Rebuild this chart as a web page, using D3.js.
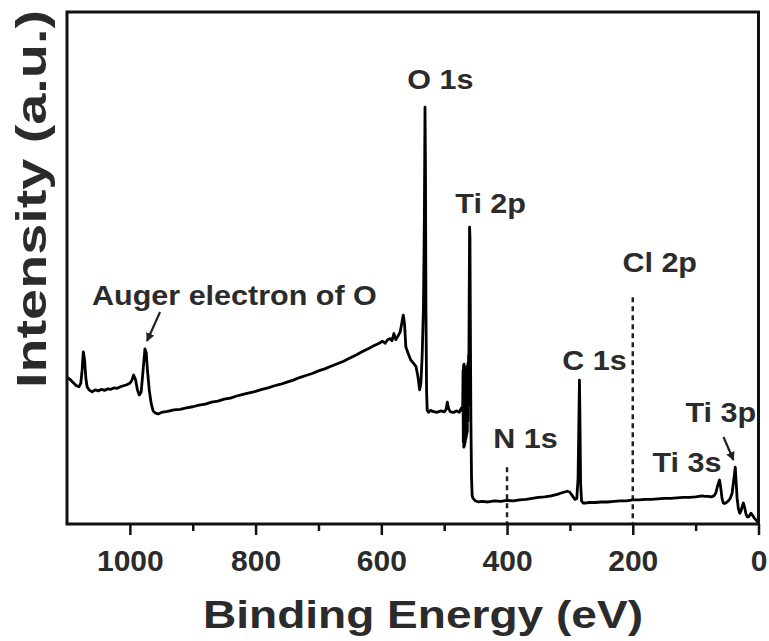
<!DOCTYPE html>
<html>
<head>
<meta charset="utf-8">
<title>XPS survey</title>
<script src="https://d3js.org/d3.v7.min.js"></script>
<style>
  body { margin: 0; background: #fff; }
  text { font-family: "Liberation Sans", Arial, sans-serif; font-weight: bold; fill: #2b2b2b; }
</style>
</head>
<body>
<script type="text/javascript">
	var width  = 769;
	var height = 641;

	// survey spectrum (binding energy in eV, intensity in a.u.)
	var energy = [1100, 1095, 1090, 1085, 1081, 1078, 1076, 1074, 1072, 1070, 1068, 1065, 1060, 1055, 1050, 1045, 1040, 1035, 1030, 1025,
		1020, 1015, 1010, 1005, 1000, 997, 994, 991, 988, 985, 982, 979, 976, 974, 972, 969, 966, 963, 960, 955,
		950, 940, 930, 920, 910, 900, 890, 880, 870, 860, 850, 840, 830, 820, 810, 800, 790, 780, 770, 760,
		750, 740, 730, 720, 710, 700, 690, 680, 670, 660, 650, 640, 630, 620, 612, 605, 598, 594, 590, 586,
		583, 580, 577, 574, 570, 567, 565, 563, 561, 557, 553, 549, 545, 542, 539, 537, 535, 533, 531.5, 530.5,
		529.8, 529, 528, 527, 525, 522, 518, 512, 505, 500, 497, 495, 493, 490, 485, 480, 476, 473, 472, 470.5,
		470, 469.6, 469.2, 468.8, 468.4, 468, 467.6, 467.2, 466.8, 466.4, 466, 465.6, 465.2, 464.8, 464.4, 464, 463.6, 463.2, 462.8, 462.4,
		462, 461.6, 461.2, 460.8, 460.3, 459.6, 459,
		458.3, 457.5, 456.5, 455.5, 454, 450, 445, 440, 430, 420, 410, 400, 390, 380, 370, 360, 350, 340, 330, 320,
		315, 310, 304, 300, 296, 292, 289, 287, 285.5, 284.8, 284, 283, 281.5, 279, 275, 270, 260, 250, 240, 230,
		220, 210, 200, 190, 180, 170, 160, 150, 140, 130, 120, 110, 100, 95, 90, 85, 80, 75, 71, 68,
		65, 62, 60, 58, 56, 54, 51, 48, 45, 42, 40, 38, 37, 36, 34, 32, 30, 28, 26, 24,
		22, 20, 18, 16, 14, 12, 10, 7, 4, 1, 0];
	var counts = [287, 282, 276, 270, 268, 275, 300, 336, 320, 285, 268, 262, 258, 262, 260, 263, 261, 264, 263, 266,
		265, 268, 270, 272, 275, 280, 291, 282, 262, 252, 258, 300, 342, 335, 300, 260, 235, 221, 217, 215,
		218, 220, 223, 224, 227, 229, 232, 234, 238, 240, 244, 246, 250, 253, 256, 259, 263, 266, 270, 273,
		277, 281, 286, 290, 294, 299, 303, 308, 313, 318, 324, 330, 337, 343, 348, 352, 357, 353, 360, 362,
		358, 372, 360, 366, 375, 395, 408, 390, 346, 332, 320, 314, 308, 290, 262, 275, 330, 420, 600, 814,
		700, 420, 260, 222, 218, 222, 220, 218, 221, 219, 224, 238, 225, 219, 218, 221, 218, 226, 222, 230,
		300, 160, 310, 150, 312, 152, 308, 155, 305, 160, 300, 165, 296, 170, 290, 175, 300, 180, 310, 200,
		315, 230, 330, 300, 420, 580, 560,
		380, 200, 90, 55, 50, 45, 43, 44, 43, 45, 44, 46, 45, 47, 48, 50, 52, 53, 55, 58,
		60, 62, 64, 62, 55, 48, 50, 90, 220, 281, 200, 80, 45, 41, 41, 42, 42, 43, 43, 44,
		45, 45, 47, 47, 48, 48, 49, 50, 50, 51, 52, 52, 53, 54, 55, 54, 54, 53, 55, 60,
		75, 86, 70, 50, 41, 40, 42, 45, 50, 60, 80, 100, 111, 90, 50, 30, 21, 25, 34, 41,
		32, 20, 14, 14, 17, 21, 18, 12, 8, 4, 4];

	var majorTicks = [0, 200, 400, 600, 800, 1000];
	var minorTicks = [100, 300, 500, 700, 900];

	// peak labels, anchored at text start / baseline in data units
	var peakLabels   = ["O 1s", "Ti 2p", "N 1s", "Cl 2p", "C 1s", "Ti 3p", "Ti 3s", "Auger electron of O"];
	var labelEnergy  = [558.8, 482.3, 421.9, 216.5, 312.0, 116.2, 168.7, 1060.2];
	var labelCounts  = [849.6, 607.4, 148.4, 492.2, 300.8, 199.2, 101.6, 427.7];

	// dotted marker lines: energy, top of line
	var markerEnergy = [400, 200];
	var markerTop    = [111, 443];

	// arrows [fromE, fromI, toE, toI]
	var arrows = [[952.0, 414.1, 972.7, 357.4], [55.7, 169.9, 39.8, 125.0]];

	var xScale = d3.scaleLinear().domain([1100, 0]).range([67, 758.5]);
	var yScale = d3.scaleLinear().domain([0, 1000]).range([524, 12]);

	var svg = d3.select("body").append("svg")
		.attr("width", width)
		.attr("height", height);

	svg.append("defs").append("marker")
		.attr("id", "head")
		.attr("viewBox", "0 0 10 10")
		.attr("refX", 9).attr("refY", 5)
		.attr("markerWidth", 4).attr("markerHeight", 4)
		.attr("markerUnits", "strokeWidth")
		.attr("orient", "auto")
		.append("path").attr("d", "M0,0 L10,5 L0,10 Z").attr("fill", "#222");

	// stretch text glyphs sideways, the original type is wider than Arial
	function widen(sel, factor) {
		sel.each(function() {
			var w = this.getComputedTextLength();
			d3.select(this).attr("textLength", w * factor).attr("lengthAdjust", "spacingAndGlyphs");
		});
	}

	// dotted lines for N 1s and Cl 2p
	svg.selectAll("line.marker").data(d3.zip(markerEnergy, markerTop)).enter()
		.append("line").attr("class", "marker")
		.attr("x1", d => xScale(d[0])).attr("x2", d => xScale(d[0]))
		.attr("y1", d => yScale(d[1])).attr("y2", yScale(0))
		.attr("stroke", "#222").attr("stroke-width", 2.5)
		.attr("stroke-dasharray", "5,4");

	// spectrum
	var line = d3.line()
		.x(d => xScale(d[0]))
		.y(d => yScale(d[1]));

	svg.append("path")
		.datum(d3.zip(energy, counts))
		.attr("d", line)
		.attr("fill", "none")
		.attr("stroke", "#000")
		.attr("stroke-width", 2.8)
		.attr("stroke-linejoin", "round");

	// x axis, major + minor ticks
	var axisMajor = d3.axisBottom(xScale).tickValues(majorTicks).tickSize(11).tickPadding(15).tickFormat(d3.format("d"));
	var axisMinor = d3.axisBottom(xScale).tickValues(minorTicks).tickSize(7).tickFormat("");

	var gMaj = svg.append("g").attr("transform", "translate(0," + yScale(0) + ")").call(axisMajor);
	var gMin = svg.append("g").attr("transform", "translate(0," + yScale(0) + ")").call(axisMinor);
	[gMaj, gMin].forEach(function(g) {
		g.select(".domain").remove();
		g.selectAll("line").attr("stroke", "#111").attr("stroke-width", 2.5);
	});
	gMaj.selectAll("text").attr("font-size", 30).attr("fill", "#2b2b2b")
		.style("font-family", "'Liberation Sans', Arial, sans-serif").style("font-weight", "bold");

	// frame
	svg.append("rect")
		.attr("x", xScale(1100)).attr("y", yScale(1000))
		.attr("width", xScale(0) - xScale(1100))
		.attr("height", yScale(0) - yScale(1000))
		.attr("fill", "none").attr("stroke", "#111").attr("stroke-width", 3);

	// peak labels
	var labels = svg.selectAll("text.peak").data(d3.zip(peakLabels, labelEnergy, labelCounts)).enter()
		.append("text").attr("class", "peak")
		.attr("x", d => xScale(d[1]))
		.attr("y", d => yScale(d[2]))
		.attr("font-size", 27)
		.text(d => d[0]);
	widen(labels, 1.13);

	svg.selectAll("line.arrow").data(arrows).enter()
		.append("line").attr("class", "arrow")
		.attr("x1", d => xScale(d[0])).attr("y1", d => yScale(d[1]))
		.attr("x2", d => xScale(d[2])).attr("y2", d => yScale(d[3]))
		.attr("stroke", "#222").attr("stroke-width", 2.2)
		.attr("marker-end", "url(#head)");

	// axis titles
	svg.append("text")
		.attr("x", 203).attr("y", 628)
		.attr("font-size", 39)
		.attr("textLength", 440)
		.attr("lengthAdjust", "spacingAndGlyphs")
		.text("Binding Energy (eV)");

	svg.append("text")
		.attr("transform", "translate(46,388) rotate(-90)")
		.attr("font-size", 42)
		.attr("textLength", 378)
		.attr("lengthAdjust", "spacingAndGlyphs")
		.text("Intensity (a.u.)");
</script>
</body>
</html>
